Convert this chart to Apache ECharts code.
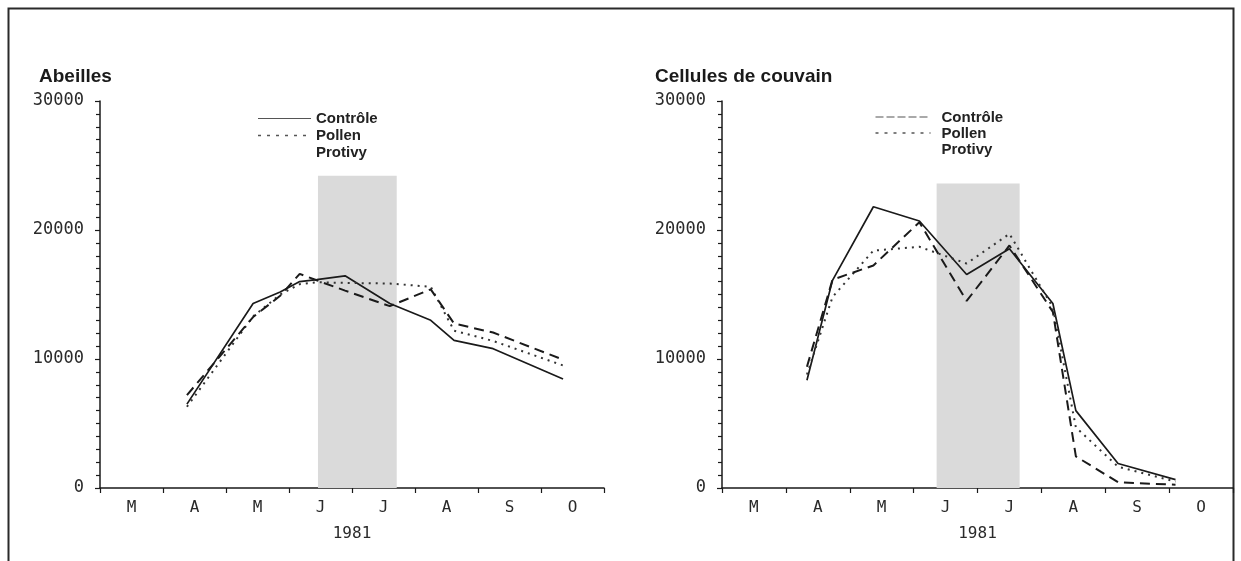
<!DOCTYPE html>
<html>
<head>
<meta charset="utf-8">
<title>Abeilles / Cellules de couvain 1981</title>
<script src="https://cdn.jsdelivr.net/npm/echarts@6/dist/echarts.min.js"></script>
<style>
  html, body { margin: 0; padding: 0; background: #fff; }
  #chart { width: 1241px; height: 561px; }
</style>
</head>
<body>
<div id="chart"></div>
<script>
// months, x position in month units (0 = start of March)
const months = ['M', 'A', 'M', 'J', 'J', 'A', 'S', 'O']

// Abeilles (left panel)
const abeillesDates = [1.38, 2.43, 2.86, 3.17, 3.44, 3.89, 4.6, 5.25, 5.62, 6.24, 7.35]
const abeillesControle = [6500, 14300, 15200, 16000, 16150, 16450, 14300, 13000, 11450, 10800, 8450]
const abeillesPollen = [6300, 13300, 15000, 15800, 15950, 15900, 15850, 15600, 12200, 11400, 9500]
const abeillesProtivy = [7200, 13250, 14900, 16600, 16100, 15300, 14100, 15400, 12750, 12050, 9950]
const abeillesShade = [3.46, 4.71, 24200]

// Cellules de couvain (right panel)
const couvainDates = [1.33, 1.73, 2.37, 3.09, 3.83, 4.5, 5.18, 5.54, 6.2, 7.1]
const couvainControle = [8350, 16100, 21800, 20700, 16550, 18550, 14300, 6000, 1900, 650]
const couvainPollen = [8800, 14800, 18400, 18700, 17400, 19700, 14000, 4700, 1650, 500]
const couvainProtivy = [9400, 16150, 17250, 20600, 14500, 18800, 13650, 2450, 450, 250]
const couvainShade = [3.36, 4.66, 23600]

const ink = '#1a1a1a'
const axisFont = 'DejaVu Sans Mono'

const pts = (dates, vals) => dates.map((d, i) => [d, vals[i]])

const yAxisOpt = (gridIndex) => ({
    type: 'value',
    gridIndex: gridIndex,
    min: 0,
    max: 30000,
    interval: 10000,
    splitLine: { show: false },
    axisLine: { show: true, lineStyle: { color: ink, width: 1.5 } },
    axisTick: { show: true, length: 5, lineStyle: { color: ink, width: 1.2 } },
    minorTick: { show: true, splitNumber: 10, length: 4, lineStyle: { color: ink, width: 1.2 } },
    axisLabel: {
        color: '#2a2a2a',
        fontFamily: axisFont,
        fontSize: 17,
        margin: 16,
        formatter: (v) => String(v)
    }
})

const xValueAxis = (gridIndex) => ({
    type: 'value',
    gridIndex: gridIndex,
    min: 0,
    max: 8,
    interval: 1,
    splitLine: { show: false },
    axisLine: { show: true, onZero: false, lineStyle: { color: ink, width: 1.5 } },
    axisTick: { show: true, length: 5, lineStyle: { color: ink, width: 1.2 } },
    axisLabel: { show: false }
})

const xMonthAxis = (gridIndex) => ({
    type: 'category',
    gridIndex: gridIndex,
    data: months,
    boundaryGap: true,
    position: 'bottom',
    axisLine: { show: false },
    axisTick: { show: false },
    axisLabel: { color: '#2a2a2a', fontFamily: axisFont, fontSize: 16, margin: 12 },
    name: '1981',
    nameLocation: 'middle',
    nameGap: 38,
    nameTextStyle: { color: '#2a2a2a', fontFamily: axisFont, fontSize: 16 }
})

const lineSeries = (name, xIdx, yIdx, data, kind) => {
    let lineStyle = { color: ink, width: 1.7, type: 'solid' }
    if (kind === 'dotted') lineStyle = { color: '#333', width: 2, type: [2, 5] }
    if (kind === 'dashed') lineStyle = { color: ink, width: 2, type: [10, 6] }
    return {
        name: name,
        type: 'line',
        xAxisIndex: xIdx,
        yAxisIndex: yIdx,
        data: data,
        symbol: 'none',
        lineStyle: lineStyle,
        itemStyle: { color: ink },
        z: 3
    }
}

const shadeSeries = (xIdx, yIdx, shade) => ({
    type: 'line',
    xAxisIndex: xIdx,
    yAxisIndex: yIdx,
    data: [],
    silent: true,
    markArea: {
        silent: true,
        itemStyle: { color: '#dadada' },
        data: [[{ xAxis: shade[0], yAxis: 0 }, { xAxis: shade[1], yAxis: shade[2] }]]
    },
    z: 1
})

const chart = echarts.init(document.getElementById('chart'), null, { renderer: 'canvas' })

chart.setOption({
    backgroundColor: '#fff',
    animation: false,
    title: [
        { text: 'Abeilles', left: 34, top: 62, textStyle: { color: '#1a1a1a', fontFamily: 'Liberation Sans', fontWeight: 'bold', fontSize: 19 } },
        { text: 'Cellules de couvain', left: 650, top: 62, textStyle: { color: '#1a1a1a', fontFamily: 'Liberation Sans', fontWeight: 'bold', fontSize: 19 } }
    ],
    legend: [
        {
            orient: 'vertical', left: 252, top: 106, itemWidth: 53, itemHeight: 10, itemGap: 2, selectedMode: false,
            textStyle: { color: '#222', fontFamily: 'Liberation Sans', fontWeight: 'bold', fontSize: 15, lineHeight: 14 },
            data: [
                { name: 'Contrôle', itemStyle: { opacity: 0 }, lineStyle: { color: '#555', width: 1.2, type: 'solid' } },
                { name: 'Pollen', itemStyle: { opacity: 0 }, lineStyle: { color: '#555', width: 1.5, type: [3, 6] } },
                { name: 'Protivy', itemStyle: { opacity: 0 }, lineStyle: { opacity: 0 } }
            ]
        }
    ],
    grid: [
        { left: 100, top: 101, width: 504, height: 387 },
        { left: 722, top: 101, width: 511, height: 387 }
    ],
    xAxis: [xValueAxis(0), xMonthAxis(0), xValueAxis(1), xMonthAxis(1)],
    yAxis: [yAxisOpt(0), yAxisOpt(1)],
    graphic: [
        {
            type: 'rect',
            shape: { x: 8.5, y: 8.5, width: 1225, height: 640 },
            style: { fill: 'none', stroke: '#2a2a2a', lineWidth: 2 },
            silent: true
        },
        // right panel legend
        {
            type: 'group', left: 873, top: 110, silent: true,
            children: [
                { type: 'line', shape: { x1: 0, y1: 9, x2: 55, y2: 9 }, style: { stroke: '#555', lineWidth: 1.2, lineDash: [8, 3] } },
                { type: 'line', shape: { x1: 0, y1: 25, x2: 55, y2: 25 }, style: { stroke: '#555', lineWidth: 1.5, lineDash: [3, 6] } },
                { type: 'text', left: 66, top: 2, style: { text: 'Contrôle\nPollen\nProtivy', fill: '#222', font: 'bold 15px "Liberation Sans"', lineHeight: 16 } }
            ]
        }
    ],
    series: [
        shadeSeries(0, 0, abeillesShade),
        lineSeries('Contrôle', 0, 0, pts(abeillesDates, abeillesControle), 'solid'),
        lineSeries('Pollen', 0, 0, pts(abeillesDates, abeillesPollen), 'dotted'),
        lineSeries('Protivy', 0, 0, pts(abeillesDates, abeillesProtivy), 'dashed'),
        shadeSeries(2, 1, couvainShade),
        lineSeries('Contrôle ', 2, 1, pts(couvainDates, couvainControle), 'solid'),
        lineSeries('Pollen ', 2, 1, pts(couvainDates, couvainPollen), 'dotted'),
        lineSeries('Protivy ', 2, 1, pts(couvainDates, couvainProtivy), 'dashed')
    ]
})
</script>
</body>
</html>
